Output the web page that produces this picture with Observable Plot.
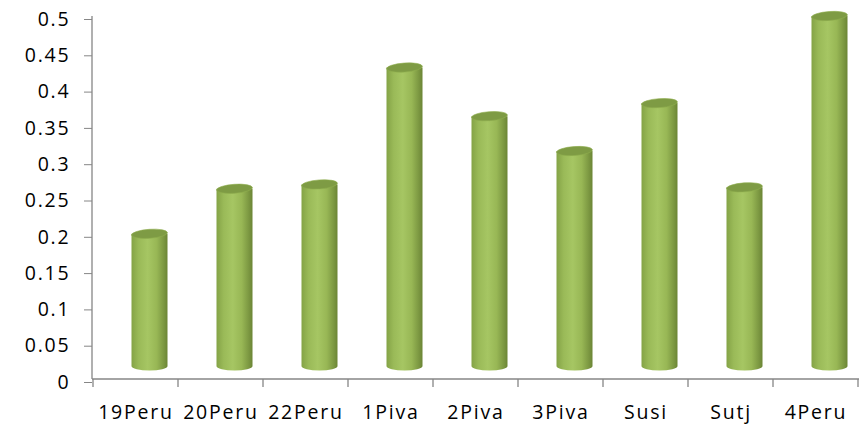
<!DOCTYPE html>
<html><head><meta charset="utf-8">
<script src="https://cdn.jsdelivr.net/npm/d3@7"></script>
<script src="https://cdn.jsdelivr.net/npm/@observablehq/plot@0.6"></script>
<style>
body{margin:0;background:#fff}
#chart svg text{letter-spacing:1.8px}
#chart svg [aria-label="y-axis tick"]{stroke:#868686}
</style>
</head><body><div id="chart"></div>
<script>
const categories = ["19Peru","20Peru","22Peru","1Piva","2Piva","3Piva","Susi","Sutj","4Peru"];
const values = [0.2, 0.262, 0.268, 0.429, 0.362, 0.314, 0.38, 0.264, 0.5];
const yTicks = [0, 0.05, 0.1, 0.15, 0.2, 0.25, 0.3, 0.35, 0.4, 0.45, 0.5];
const data = categories.map((c, i) => ({cat: c, value: values[i]}));

const depthX = 14, depthY = 13, barW = 36, ry = 4.5;

function frameAndCylinders(index, scales, vals, dims) {
  const {x, y} = scales;
  const bw = x(categories[1]) - x(categories[0]);
  const g = d3.create("svg:g");
  const defs = g.append("defs");
  const grad = defs.append("linearGradient").attr("id", "cyl").attr("x1", 0).attr("x2", 1).attr("y1", 0).attr("y2", 0);
  [[0, "#84a346"], [0.2, "#9aba58"], [0.45, "#a6c663"], [0.7, "#98b755"], [0.9, "#7b9741"], [1, "#6b8535"]]
    .forEach(([o, c]) => grad.append("stop").attr("offset", o).attr("stop-color", c));
  const x0 = dims.marginLeft, x1 = dims.width - dims.marginRight, yb = y(0);
  g.append("line").attr("x1", x0).attr("x2", x0).attr("y1", y(0.5)).attr("y2", yb).attr("stroke", "#868686").attr("stroke-width", 1.3);
  g.append("line").attr("x1", x0).attr("x2", x1).attr("y1", yb).attr("y2", yb).attr("stroke", "#868686").attr("stroke-width", 1.3);
  const bounds = categories.map(c => x(c)).concat([x(categories[categories.length - 1]) + bw]);
  bounds.forEach(bx => g.append("line").attr("x1", bx).attr("x2", bx).attr("y1", yb).attr("y2", yb + 8).attr("stroke", "#868686").attr("stroke-width", 1.3));
  data.forEach(d => {
    const cx = x(d.cat) + bw / 2 + depthX;
    const top = y(d.value), bot = yb - depthY;
    const l = cx - barW / 2, r = cx + barW / 2;
    g.append("path")
      .attr("d", `M${l},${top}L${l},${bot}A${barW/2},${ry} 0 0 0 ${r},${bot}L${r},${top}Z`)
      .attr("fill", "url(#cyl)");
    g.append("ellipse")
      .attr("cx", cx).attr("cy", top).attr("rx", barW / 2).attr("ry", ry)
      .attr("transform", `rotate(-4 ${cx} ${top})`)
      .attr("fill", "#7e9b44").attr("stroke", "#8fae4e").attr("stroke-width", 0.6);
  });
  return g.node();
}

const chart = Plot.plot({
  width: 864,
  height: 429,
  marginLeft: 92,
  marginRight: 5,
  marginTop: 16,
  marginBottom: 50,
  style: {fontFamily: "'Open Sans', sans-serif", fontSize: "19.5px", color: "#000", background: "#fff"},
  x: {type: "band", domain: categories, padding: 0, label: null},
  y: {domain: [0, 0.5], label: null},
  marks: [
    Plot.axisY(yTicks, {tickSize: 8, tickPadding: 14, dy: 3, fontSize: 19.5, label: null, tickFormat: d => String(d)}),
    Plot.axisX({tickSize: 0, tickPadding: 26, fontSize: 19.5, label: null}),
    frameAndCylinders
  ]
});
document.getElementById("chart").appendChild(chart);
</script>
</body></html>
